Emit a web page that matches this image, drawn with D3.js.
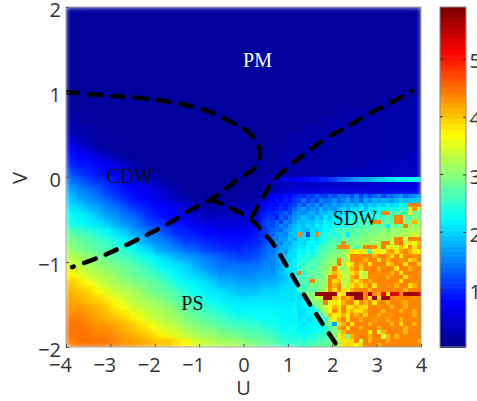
<!DOCTYPE html>
<html>
<head>
<meta charset="utf-8">
<script src="https://cdn.jsdelivr.net/npm/d3@7"></script>
<style>
  body { margin: 0; background: #fff; overflow: hidden; }
  text { font-family: "Open Sans", sans-serif; fill: #333; }
  .phase { font-family: "Liberation Serif", serif; font-size: 20px; fill: #111; }
</style>
</head>
<body>
<div id="chart"></div>
<script>
// tick labels
let uTicks = [-4, -3, -2, -1, 0, 1, 2, 3, 4];
let vTicks = [-2, -1, 0, 1, 2];
let barTicks = [1, 2, 3, 4, 5];

// smooth part of the map: top row is V = 2, cells are 0.2 wide in U and 0.1 high in V
let smoothRows = [
[.15,.15,.15,.15,.15,.15,.15,.15,.15,.15,.15,.15,.15,.15,.15,.15,.15,.15,.15,.15,.15,.15,.15,.15,.15,.15,.15,.15,.15,.15,.15,.15,.15,.15,.15,.15,.15,.15,.15,.15],
[.15,.15,.15,.15,.15,.15,.15,.15,.15,.15,.15,.15,.15,.15,.15,.15,.15,.15,.15,.15,.15,.15,.15,.15,.15,.15,.15,.15,.15,.15,.15,.15,.15,.15,.15,.15,.15,.15,.15,.15],
[.15,.15,.15,.15,.15,.15,.15,.15,.15,.15,.15,.15,.15,.15,.15,.15,.15,.15,.15,.15,.15,.15,.15,.15,.15,.15,.15,.15,.15,.15,.15,.15,.15,.15,.15,.15,.15,.15,.15,.15],
[.15,.15,.15,.15,.15,.15,.15,.15,.15,.15,.15,.15,.15,.15,.15,.15,.15,.15,.15,.15,.15,.15,.15,.15,.15,.15,.15,.15,.15,.15,.15,.15,.15,.15,.15,.15,.15,.15,.15,.15],
[.15,.15,.15,.15,.15,.15,.15,.15,.15,.15,.15,.15,.15,.15,.15,.15,.15,.15,.15,.15,.15,.15,.15,.15,.15,.15,.15,.15,.15,.15,.15,.15,.15,.15,.15,.15,.15,.15,.15,.15],
[.15,.15,.15,.15,.15,.15,.15,.15,.15,.15,.15,.15,.15,.15,.15,.15,.15,.15,.15,.15,.15,.15,.15,.15,.15,.15,.15,.15,.15,.15,.15,.15,.15,.15,.15,.15,.15,.15,.15,.15],
[.15,.15,.15,.15,.15,.15,.15,.15,.15,.15,.15,.15,.15,.15,.15,.15,.15,.15,.15,.15,.15,.15,.15,.15,.15,.15,.15,.15,.15,.15,.15,.15,.15,.15,.15,.15,.15,.15,.15,.15],
[.15,.15,.15,.15,.15,.15,.15,.15,.15,.15,.15,.15,.15,.15,.15,.15,.15,.15,.15,.15,.15,.15,.15,.15,.15,.15,.15,.15,.15,.15,.15,.15,.15,.15,.15,.15,.15,.15,.15,.15],
[.15,.15,.15,.15,.15,.15,.15,.15,.15,.15,.15,.15,.15,.15,.15,.15,.15,.15,.15,.15,.15,.15,.15,.15,.15,.15,.15,.15,.15,.15,.15,.15,.15,.15,.15,.15,.15,.15,.15,.15],
[.15,.15,.15,.15,.15,.15,.15,.15,.15,.15,.15,.15,.15,.15,.15,.15,.15,.15,.15,.15,.15,.15,.15,.15,.15,.15,.15,.15,.15,.15,.15,.15,.15,.15,.15,.15,.15,.15,.15,.15],
[.15,.15,.15,.15,.15,.15,.15,.15,.15,.15,.15,.15,.15,.15,.15,.15,.15,.15,.15,.15,.15,.15,.15,.15,.15,.15,.15,.15,.15,.15,.15,.15,.15,.15,.15,.15,.15,.15,.15,.2],
[.15,.15,.15,.15,.15,.15,.15,.15,.15,.15,.15,.15,.15,.15,.15,.15,.15,.15,.15,.15,.15,.15,.15,.15,.15,.15,.15,.15,.15,.15,.15,.15,.15,.15,.15,.2,.2,.2,.2,.2],
[.15,.15,.15,.15,.15,.15,.15,.15,.15,.15,.15,.15,.15,.15,.15,.15,.15,.15,.15,.15,.15,.15,.15,.15,.15,.15,.15,.15,.15,.15,.15,.2,.2,.2,.25,.25,.25,.25,.25,.25],
[.2,.15,.15,.15,.15,.15,.15,.15,.15,.15,.15,.15,.15,.15,.15,.15,.15,.15,.15,.15,.15,.15,.15,.15,.15,.15,.15,.15,.15,.2,.2,.2,.2,.25,.25,.25,.25,.25,.25,.25],
[.3,.25,.2,.15,.15,.15,.15,.15,.15,.15,.15,.15,.15,.15,.15,.15,.15,.15,.15,.15,.15,.15,.15,.15,.15,.15,.15,.2,.2,.2,.2,.2,.25,.25,.25,.25,.25,.25,.25,.25],
[.5,.3,.2,.15,.15,.15,.15,.15,.15,.15,.15,.15,.15,.15,.15,.15,.15,.15,.15,.15,.15,.15,.15,.15,.15,.2,.2,.2,.2,.2,.2,.2,.25,.25,.25,.25,.25,.25,.25,.25],
[.7,.6,.45,.25,.18,.15,.15,.15,.15,.15,.15,.15,.15,.15,.15,.15,.15,.15,.15,.15,.15,.15,.15,.15,.15,.2,.2,.2,.2,.2,.2,.2,.25,.25,.25,.25,.25,.25,.25,.25],
[.85,.8,.7,.6,.45,.25,.18,.15,.15,.15,.15,.15,.15,.15,.15,.15,.15,.15,.15,.15,.15,.15,.15,.15,.2,.2,.2,.2,.2,.2,.2,.25,.25,.25,.25,.25,.25,.25,.3,.3],
[1,.9,.85,.8,.7,.6,.45,.25,.18,.15,.15,.15,.15,.15,.15,.15,.15,.15,.15,.15,.15,.15,.15,.15,.2,.2,.2,.2,.2,.25,.25,.25,.25,.25,.3,.3,.3,.3,.3,.3],
[1.25,1.1,.95,.85,.8,.7,.6,.45,.25,.18,.15,.15,.15,.15,.15,.15,.15,.15,.15,.15,.15,.15,.15,.2,.2,.2,.25,.25,.25,.25,.25,.3,.3,.3,.3,.35,.35,.35,.35,.35],
[1.45,1.35,1.2,1.05,.95,.85,.78,.67,.55,.38,.2,.15,.15,.15,.15,.15,.15,.15,.15,.15,.15,.15,.2,.25,.3,.35,.35,.4,.4,.4,.45,.45,.45,.45,.5,.5,.5,.5,.5,.5],
[1.7,1.55,1.4,1.3,1.1,1,.9,.8,.72,.6,.5,.3,.2,.15,.15,.15,.15,.15,.15,.15,.15,.15,.2,.3,.4,.45,.5,.5,.55,.55,.55,.55,.55,.55,.55,.55,.6,.6,.6,.6],
[1.9,1.75,1.6,1.45,1.3,1.15,1,.9,.8,.7,.6,.5,.3,.2,.15,.15,.15,.15,.15,.15,.15,.25,.4,.6,.7,.8,.85,.9,.9,.95,1,1,1.05,1.05,1.1,1.1,1.15,1.15,1.2,1.2],
[2.1,2,1.85,1.7,1.55,1.4,1.25,1.1,1,.9,.8,.7,.6,.5,.3,.2,.15,.2,.25,.3,.35,.45,.8,1,1.1,1.2,1.2,1.3,1.3,1.4,1.4,1.5,1.5,1.6,1.6,1.7,1.7,1.8,1.8,1.9],
[2.3,2.2,2.05,1.9,1.75,1.6,1.45,1.3,1.15,1,.9,.8,.7,.6,.5,.4,.35,.35,.35,.4,.45,.55,1,1.2,1.3,1.4,1.4,1.4,1.5,1.5,1.6,1.6,1.7,1.7,1.8,1.8,1.9,1.9,2,2],
[2.4,2.3,2.2,2.1,1.95,1.8,1.65,1.5,1.35,1.2,1.05,.95,.85,.75,.65,.6,.55,.55,.55,.55,.6,.7,1.2,1.4,1.6,1.7,1.7,1.7,1.8,1.9,2,2.1,2.2,2.3,2.4,2.5,2.6,2.7,2.8,2.9],
[2.7,2.6,2.5,2.4,2.3,2.1,1.95,1.75,1.6,1.45,1.3,1.15,1,.95,.85,.8,.75,.7,.7,.7,.75,.85,1.1,1.5,1.7,1.9,1.9,1.9,2,2.2,2.3,2.5,2.6,2.7,2.8,2.9,3,3,3.1,3.1],
[2.9,2.8,2.7,2.6,2.5,2.35,2.15,2.05,1.85,1.65,1.5,1.4,1.25,1.1,1.05,1,.95,.9,.85,.85,.9,1,1.2,1.7,1.9,2.1,2.1,2.1,2.2,2.4,2.6,2.8,3,3.2,3.4,3.6,3.8,3.8,3.8,3.8],
[3.05,2.95,2.85,2.75,2.65,2.55,2.45,2.3,2.1,1.95,1.75,1.6,1.5,1.35,1.3,1.2,1.1,1.05,1,1,1.05,1.1,1.3,1.6,2,2.3,2.3,2.3,2.4,2.6,2.8,3,3.2,3.4,3.6,3.8,4,4,4,4],
[3.25,3.15,3.05,2.95,2.85,2.75,2.65,2.5,2.4,2.25,2.1,2,1.85,1.75,1.6,1.5,1.4,1.3,1.25,1.2,1.2,1.25,1.4,1.6,2.1,2.4,2.4,2.4,2.6,2.8,3,3.2,3.4,3.6,3.8,4,4.2,4.2,4.2,4.2],
[3.5,3.35,3.2,3.1,3,2.9,2.8,2.7,2.6,2.45,2.3,2.15,2.05,1.95,1.8,1.65,1.5,1.45,1.4,1.4,1.4,1.45,1.5,1.7,1.85,2.5,2.5,2.6,2.8,3,3.2,3.4,3.6,3.8,4,4.2,4.2,4.2,4.2,4.2],
[3.7,3.55,3.4,3.25,3.15,3.05,2.95,2.85,2.75,2.65,2.5,2.35,2.2,2.1,2,1.9,1.75,1.65,1.6,1.55,1.55,1.6,1.65,1.75,1.85,2.2,2.4,2.6,2.8,3,3.2,3.4,3.6,3.8,4,4.2,4.2,4.2,4.2,4.2],
[4,3.8,3.6,3.45,3.3,3.2,3.1,3,2.9,2.8,2.7,2.55,2.4,2.3,2.15,2.05,1.95,1.85,1.8,1.7,1.7,1.75,1.8,1.85,1.95,2,2.4,2.6,2.8,3,3.2,3.4,3.6,3.8,4,4.2,4.2,4.2,4.2,4.2],
[4.1,4.05,3.9,3.7,3.55,3.4,3.25,3.15,3.05,2.95,2.85,2.75,2.6,2.45,2.3,2.2,2.1,2.05,1.95,1.9,1.9,1.9,1.95,2,2.05,2.1,2.4,2.6,2.8,3,3.2,3.4,3.6,3.8,4,4.2,4.2,4.2,4.2,4.2],
[4.2,4.15,4.05,3.95,3.8,3.6,3.45,3.3,3.2,3.1,3,2.9,2.75,2.6,2.5,2.35,2.3,2.2,2.1,2.05,2.05,2.05,2.05,2.05,2.1,2.1,2.4,2.6,2.8,3,3.2,3.4,3.6,3.8,4,4.2,4.2,4.2,4.2,4.2],
[4.3,4.25,4.2,4.1,4,3.8,3.65,3.5,3.35,3.25,3.15,3.05,2.95,2.8,2.7,2.55,2.45,2.35,2.3,2.2,2.2,2.2,2.2,2.2,2.15,2.15,2.4,2.6,2.8,3,3.2,3.4,3.6,3.8,4,4.2,4.2,4.2,4.2,4.2],
[4.4,4.35,4.25,4.2,4.15,4.05,3.9,3.7,3.55,3.4,3.3,3.2,3.05,2.95,2.85,2.7,2.65,2.55,2.45,2.4,2.35,2.3,2.3,2.25,2.2,2.2,2.4,2.6,2.8,3,3.2,3.4,3.6,3.8,4,4.2,4.2,4.2,4.2,4.2],
[4.5,4.45,4.4,4.3,4.25,4.2,4.1,4,3.8,3.6,3.45,3.35,3.25,3.1,3,2.9,2.8,2.75,2.65,2.6,2.55,2.5,2.4,2.35,2.3,2.3,2.4,2.6,2.8,3,3.2,3.4,3.6,3.8,4,4.2,4.2,4.2,4.2,4.2],
[4.5,4.5,4.45,4.4,4.35,4.3,4.2,4.15,4.05,3.9,3.7,3.55,3.45,3.3,3.2,3.1,3.05,2.95,2.9,2.85,2.75,2.7,2.6,2.5,2.4,2.35,2.4,2.6,2.8,3,3.2,3.4,3.6,3.8,4,4.2,4.2,4.2,4.2,4.2],
[4.4,4.45,4.5,4.5,4.45,4.4,4.3,4.25,4.2,4.15,4.05,4,3.85,3.7,3.5,3.4,3.3,3.2,3.15,3.1,3,2.95,2.85,2.7,2.5,2.45,2.5,2.7,2.9,3.1,3.3,3.5,3.7,3.9,4,4.2,4.2,4.2,4.2,4.2]
];

// noisy SDW part at full resolution: U from 1.2 to 4 in steps of 0.1, V from -0.2 to -2 in steps of 0.05
let sdwRows = [
[1.1,1,1.2,1.1,1.3,1.2,1.1,1.3,1.2,1.4,1.3,1.4,1.2,1.5,1.1,1.4,1.2,1.3,1.5,1.2,1.4,1.3,1.5,1.6,1.3,1.5,1.6,1.7],
[1.2,1.4,1.1,1.3,1.2,1.5,1.3,1.4,1.6,1.3,1.5,1.7,1.4,1.6,1.3,1.7,1.5,1.8,1.6,1.8,1.7,1.6,1.8,2,1.8,1.9,1.9,2],
[1.4,1.2,1.5,1.4,1.6,1.3,1.6,1.5,1.7,1.6,1.8,1.7,1.9,1.7,2,1.8,2,1.9,2.1,1.9,2.2,2,2.1,2.3,2.2,4.4,4.4,4.4],
[1.5,1.7,1.4,1.6,1.5,1.8,1.6,1.7,1.6,1.9,2,1.8,2.1,2,2.2,1.9,2.2,2.1,2.3,2.2,2.3,2.4,2.3,2.5,2.4,3.4,4.3,3.2],
[1.6,1.5,1.7,1.8,1.6,1.9,1.8,2,1.9,2.1,2,2.2,2.1,2.3,2.1,2.3,2.2,2.4,2.3,4.4,4.4,2.5,2.6,2.7,2.5,3.8,2.8,2.9],
[1.7,1.9,1.8,1.7,2,1.8,2.1,1.9,2.2,2,2.3,2.2,2.4,2.3,2.5,2.3,2.6,2.4,2.6,2.5,2.7,2.6,4.4,4.4,2.8,2.7,3,2.9],
[1.9,1.8,2,1.9,2.1,2,2.2,2.1,2.3,2.2,2.4,2.3,2.5,2.4,2.6,2.5,2.7,4.4,4.4,2.7,2.8,2.7,4.4,4.5,2.9,3,4.1,3.1],
[2,1.9,2.1,2,2.2,2.1,2.3,2.2,2.4,2.3,2.5,2.4,2.6,2.5,2.6,2.7,2.6,2.8,2.7,2.8,2.2,2.9,2.8,3,4.4,3,3.2,3.1],
[2,1.9,1.8,2.1,2,2.2,2.3,2.3,2.5,2.6,2.5,2.7,2.6,2.8,2.7,2.9,2.8,2.9,2.8,3,2.9,3,3.1,3,3.2,3.3,3.1,3.4],
[4.4,2,1.2,2.1,4.4,2.2,2.4,2.5,2.4,2.6,2.7,2.2,2.8,2.7,2.9,2.8,3,2.9,3,3.1,3,3.2,3.1,3.3,3.2,3.3,3.4,3.3],
[2,2.1,2,2.2,2.1,2.3,2.4,2.5,2.6,2.5,2.8,2.7,2.9,2.8,3,2.9,3,3.1,3,3.2,3.1,3.3,4.4,4.4,3.4,4.4,4.4,4.4],
[2.1,2,2.2,2.3,2.2,2.4,2.5,2.6,2.7,2.8,4.4,2.8,2.9,3,3.1,3,3.2,3.1,3.3,4.4,4.4,3.3,4.4,4.5,3.4,3.8,3.6,4.1],
[2.2,2.1,2.3,2.2,2.4,2.5,2.6,2.7,2.8,4.4,4.4,4.3,3,2.6,3.1,4.4,4.4,4.3,3.2,4.4,3.4,3.8,3.5,4.1,3.7,4.4,3.8,4.3],
[2.3,2.2,2.4,2.3,2.5,2.6,2.7,2.8,2.9,3,3.1,3.2,3.8,3.7,3.8,3.4,2.6,3.6,3.8,3.5,4.1,4.3,3.8,4.2,4.4,4.1,3.8,3.7],
[2.4,2.3,2.5,2.4,2.6,2.7,2.8,2.9,3,3.1,3,3.5,4.4,4.4,4.3,4.4,4.4,4.1,4.4,4.4,4.3,3.8,4.4,3.8,4.4,4.4,4.3,4.4],
[2.4,2.5,2.4,2.6,2.7,2.8,2.9,3,3.1,4.4,3.1,3.3,4.3,4.4,4.4,4.1,4.4,4.4,3.8,4.4,4.1,4.4,4.4,4.3,4.4,3.8,4.1,4.4],
[2.5,2.4,2.6,2.7,2.6,2.8,2.9,3.1,3.2,4.5,3.2,3.6,3.8,4.4,4.1,4.4,3.8,4.4,4.4,4.4,3.8,4.1,4.4,4.4,3.8,4.4,4.4,3.9],
[2.5,2.6,2.7,2.6,2.8,2.9,3,3.2,4.4,3.3,3,3.4,4.1,4.4,3.8,4.4,4.4,4.4,4.1,4.4,4.4,4.4,3.8,4.4,4.4,4.1,4.4,4.4],
[4.4,2.4,2.7,2.8,2.7,2.9,3.1,3.3,4.1,3.8,3.3,3.2,3.8,4.1,3.4,3.3,4.4,4.4,4.3,4.4,4.4,4.1,4.4,3.8,4.4,4.4,4.4,4.3],
[2.6,2.5,2.8,2.7,2.9,2.8,3.2,4.4,4.4,3.8,3.4,3.3,4.1,4.4,3.5,3.4,4.4,4.3,4.4,4.4,4.1,4.4,4.4,4.4,3.8,4.4,4.4,4.4],
[2.6,2.7,2.6,4.4,2.9,3,3.1,4.4,3.8,4.1,3.3,3.2,4.1,3.8,4.1,4.4,4.1,4.4,4.4,4.4,4.4,4.4,4.4,3.8,4.4,4.4,4.4,4.4],
[2.6,2.5,2.7,2.9,2.8,3,3.2,4.4,4.1,4.4,3.3,3.4,3.8,4.1,3.8,4.1,4.4,3.8,4.4,4.4,4.3,4.4,4.1,4.4,4.4,3.8,4.1,4.4],
[2.7,2.6,2.8,2.7,2.9,3.1,3.3,4.4,3.8,4.4,3.8,3.5,4.1,4.4,4.4,4.4,4.1,4.4,4.4,4.4,4.4,4.4,4.4,4.4,4.1,4.4,4.4,4.4],
[2.1,2.7,2.9,3,5.8,5.8,5.8,5.8,5.8,3.6,3.8,5.8,5.8,5.8,5.8,4.4,5.7,4.4,4.1,5.1,3.8,5.4,5.2,4.4,5.7,5.8,5.7,5.4],
[2.1,2.1,2.9,3,3.3,3.5,5.7,5.7,4.1,3.8,4.4,4.1,4.4,5.8,5.7,4.4,3.8,5.7,3.9,5.7,5.7,4.4,4.3,4.4,4.4,4.4,4.3,4.4],
[2.1,2.2,2.2,3,2.9,3.1,4.4,3.4,3.8,3.6,4.1,4.4,4.4,3.8,4.4,4.1,4.4,3.8,4.4,4.4,4.1,4.4,4.4,4.3,4.1,4.4,4.4,4.4],
[2.1,2.2,2.2,2.3,3,3.2,3.3,3.7,4.1,3.8,4.4,3.8,3.8,4.1,3.9,3.8,4.4,4.4,4.3,4.4,4.4,4.1,4.4,4.4,4.1,4.4,4.4,4.4],
[2.1,2.1,2.2,2.3,2.4,3,3.3,3.6,4.4,3.8,4.4,3.9,4.1,3.8,3.8,4.1,4.4,4.4,4.4,4.1,4.4,4.4,4.4,4.1,4.4,4.4,4.1,4.4],
[2.1,2.1,2.2,2.2,2.3,2.5,3,4.1,3.7,3.8,4.1,3.8,4.4,4.1,4.4,3.9,4.4,4.4,4.1,4.4,4.4,4.3,4.4,4.4,4.4,4.4,4.1,4.4],
[2.1,2.2,2.1,2.2,2.3,2.4,2.5,3.2,3.7,4.1,4.4,3.8,4.4,4.4,4.1,4.4,4.4,4.3,4.4,4.4,4.1,4.4,4.4,4.1,4.4,4.4,4.4,4.4],
[2.2,2.1,2.2,2.2,2.3,2.3,2.5,2.8,1.7,3.8,4.1,4.4,3.8,4.4,4.4,4.4,4.1,4.4,4.4,4.4,4.4,4.1,4.4,3.9,4.4,4.4,4.1,4.4],
[2.2,2.2,2.2,2.3,2.3,2.4,2.4,2.7,2.9,4.1,4.4,3.8,4.4,4.4,4.1,4.4,4.4,4.4,4.1,4.4,4.4,4.4,4.4,4.4,4.1,4.4,4.4,4.4],
[2.3,2.2,2.3,2.3,2.4,2.4,2.5,2.6,2.9,3.4,4.1,4.4,4.4,4.4,4.4,4.4,3.8,4.4,3.4,4.1,4.4,4.4,4.4,4.4,4.1,4.4,4.4,4.4],
[2.4,2.3,2.4,2.4,2.5,2.5,2.6,2.7,3,3.6,3.9,2.9,4.1,4.4,4.4,4.4,4.1,4.4,4.4,3.4,4.1,4.4,4.1,4.4,4.4,4.4,4.4,4.4],
[2.5,2.4,2.5,2.5,2.6,2.6,2.7,2.8,3,3.3,3.8,3.8,3.9,4.4,3.4,4.4,4.1,4.4,4.4,4.4,4.1,4.4,4.4,4.4,4.4,4.4,4.4,4.1],
[2.6,2.5,2.6,2.6,2.7,2.7,2.8,2.9,3.1,3.3,3.8,3.9,3.8,3.6,3.9,4.4,4.4,4.4,4.1,4.4,4.4,4.4,4.4,4.4,4.4,4.4,4.4,4.4]
];

// scattered cells just left of those, U from 0.6 to 1.2, same rows from V = -0.2 down to V = -1.1
let sdwLeftRows = [
[.7,.8,.7,.9,.8,1],
[.8,.9,.8,1,.9,1.1],
[.9,.8,1,.9,1.1,1.2],
[.9,1,1.1,1,1.2,1.3],
[1,1.1,1.2,1.3,1.2,1.5],
[1.1,1,1.3,1.2,1.4,1.6],
[1.2,1.3,1.2,1.5,1.4,1.7],
[1.2,1.3,1.5,1.4,1.6,1.8],
[1.3,1.4,1.3,1.6,1.7,1.9],
[1.3,1.5,1.6,1.5,1.8,1.9],
[1.4,1.5,1.7,1.6,1.9,1.8],
[1.4,1.6,1.5,1.8,1.7,2],
[1.4,1.5,1.7,1.8,1.9,2],
[1.4,1.6,1.8,1.7,2,2.1],
[1.5,1.6,1.7,1.9,2.1,2.1],
[1.5,1.7,1.8,2,2,2.2],
[1.5,1.6,1.8,1.9,2.1,2.2],
[1.5,1.7,1.8,2,2.1,2.2],
[1.6,1.7,1.9,2,2.1,2.2]
];

// bright thin line just below V = 0, U from 0.7 to 4 in steps of 0.1
let stripeValues = [.5,.5,.6,.6,.7,.7,.8,.8,.9,.9,1,1,1.1,1.2,1.3,1.3,1.4,1.5,1.6,1.7,1.7,1.8,1.9,2,2,2.1,2.1,2.2,2.2,2.2,2.3,2.3,2.4];

// phase boundaries as [U, V]
let upperBoundary = [[-4,1],[-3.46,.976],[-2.94,.953],[-2.33,.93],[-1.72,.89],[-1.2,.835],[-.69,.753],[-.08,.59],[.06,.553],[.3,.41],[.37,.28],[.3,.14],[.15,.06],[-.08,-.01],[-.42,-.15],[-.75,-.27],[-1.2,-.39],[-1.66,-.54],[-2.18,-.68],[-2.72,-.82],[-3.23,-.94],[-3.86,-1.06]];
let sdwBoundary = [[-.75,-.26],[-.42,-.33],[-.08,-.42],[.19,-.51],[.44,-.65],[.66,-.78],[1,-1.07],[1.32,-1.35],[1.72,-1.68],[2.13,-2]];
let pmBoundary = [[.19,-.47],[.44,-.24],[.66,-.06],[1.05,.14],[1.43,.29],[1.88,.46],[2.33,.59],[2.78,.73],[3.23,.85],[3.8,1.01]];

// phase names
let phaseNames = ["PM", "CDW", "SDW", "PS"];
let phaseU = [.315, -2.56, 2.51, -1.15];
let phaseV = [1.295, -.07, -.565, -1.565];

let colorMin = 0.01;
let colorMax = 5.9;

let svgWidth = 477;
let svgHeight = 401;
let margin = { top: 7, left: 66 };
let width = 355;
let height = 340;

let svg = d3.select("#chart")
            .append("svg")
            .attr("width", svgWidth)
            .attr("height", svgHeight);

let xScale = d3.scaleLinear().domain([-4, 4]).range([margin.left, margin.left + width]);
let yScale = d3.scaleLinear().domain([-2, 2]).range([margin.top + height, margin.top]);

// jet colormap, cut into 64 steps like the colorbar
let jet = d3.scaleLinear()
            .domain([0, .125, .375, .625, .875, 1])
            .range(["#00008f", "#0000ff", "#00ffff", "#ffff00", "#ff0000", "#800000"]);
let colorOf = v => {
    let t = (v - colorMin) / (colorMax - colorMin);
    return jet(Math.max(0, Math.min(63, Math.floor(t * 64))) / 63);
};

let defs = svg.append("defs");
defs.append("clipPath").attr("id", "plotClip")
    .append("rect")
    .attr("x", margin.left).attr("y", margin.top)
    .attr("width", width).attr("height", height);
defs.append("filter").attr("id", "soften")
    .attr("x", "-5%").attr("y", "-5%").attr("width", "110%").attr("height", "110%")
    .attr("color-interpolation-filters", "sRGB")
    .append("feGaussianBlur")
    .attr("stdDeviation", 2.4)
    .attr("edgeMode", "duplicate");

let plot = svg.append("g").attr("clip-path", "url(#plotClip)");

// smooth background cells
let smoothCells = [];
smoothRows.forEach((row, r) => row.forEach((value, c) => {
    smoothCells.push({ u: -4 + c * 0.2, v: 2 - r * 0.1, value: value });
}));
plot.append("g").attr("filter", "url(#soften)")
    .selectAll("rect")
    .data(smoothCells)
    .enter()
    .append("rect")
    .attr("x", d => xScale(d.u))
    .attr("y", d => yScale(d.v))
    .attr("width", xScale(0.2) - xScale(0) + 0.5)
    .attr("height", yScale(0) - yScale(0.1) + 0.5)
    .attr("fill", d => colorOf(d.value));

// noisy cells on top
let fineCells = [];
sdwLeftRows.forEach((row, r) => row.forEach((value, c) => {
    fineCells.push({ u: 0.6 + c * 0.1, v: -0.2 - r * 0.05, value: value });
}));
sdwRows.forEach((row, r) => row.forEach((value, c) => {
    fineCells.push({ u: 1.2 + c * 0.1, v: -0.2 - r * 0.05, value: value });
}));
stripeValues.forEach((value, c) => {
    fineCells.push({ u: 0.7 + c * 0.1, v: 0, value: value });
});
plot.append("g").attr("shape-rendering", "crispEdges")
    .selectAll("rect")
    .data(fineCells)
    .enter()
    .append("rect")
    .attr("x", d => xScale(d.u))
    .attr("y", d => yScale(d.v))
    .attr("width", xScale(0.1) - xScale(0) + 0.3)
    .attr("height", yScale(0) - yScale(0.05) + 0.3)
    .attr("fill", d => colorOf(d.value));

// dashed phase boundaries
let boundaryLine = d3.line()
    .x(d => xScale(d[0]))
    .y(d => yScale(d[1]))
    .curve(d3.curveCatmullRom);

plot.selectAll("path.boundary")
    .data([upperBoundary, sdwBoundary, pmBoundary])
    .enter()
    .append("path")
    .attr("class", "boundary")
    .attr("d", boundaryLine)
    .attr("fill", "none")
    .attr("stroke", "#000")
    .attr("stroke-width", 4.5)
    .attr("stroke-linecap", "round")
    .attr("stroke-dasharray", "12 11");

// phase labels
svg.selectAll("text.phase")
    .data(phaseNames)
    .enter()
    .append("text")
    .attr("class", "phase")
    .attr("x", (d, i) => xScale(phaseU[i]))
    .attr("y", (d, i) => yScale(phaseV[i]))
    .attr("text-anchor", "middle")
    .style("fill", d => d === "PM" ? "#fff" : "#111")
    .text(d => d);

// frame and axes
svg.append("rect")
    .attr("x", margin.left).attr("y", margin.top)
    .attr("width", width).attr("height", height)
    .attr("fill", "none")
    .attr("stroke", "#999")
    .attr("stroke-width", 0.8);

let xAxis = svg.append("g")
    .attr("transform", `translate(0, ${margin.top + height})`)
    .call(d3.axisBottom(xScale).tickValues(uTicks).tickFormat(d3.format("d")).tickSize(-3).tickPadding(11));
xAxis.selectAll("text").attr("dx", d => d < 0 ? -6 : 0);

let yAxis = svg.append("g")
    .attr("transform", `translate(${margin.left}, 0)`)
    .call(d3.axisLeft(yScale).tickValues(vTicks).tickFormat(d3.format("d")).tickSize(-3).tickPadding(5));
yAxis.selectAll("text").attr("dy", "0.45em");

[xAxis, yAxis].forEach(axis => {
    axis.select(".domain").remove();
    axis.selectAll("line").attr("stroke", "#555");
    axis.selectAll("text").style("font-size", "20px").style("font-family", '"Open Sans", sans-serif').style("fill", "#333");
});

svg.append("text")
    .attr("x", xScale(0))
    .attr("y", 395)
    .attr("text-anchor", "middle")
    .style("font-size", "20px")
    .text("U");

svg.append("text")
    .attr("transform", `translate(27, ${yScale(0) + 1}) rotate(-90)`)
    .attr("text-anchor", "middle")
    .style("font-size", "20px")
    .text("V");

// colorbar
let barX = 440;
let barWidth = 26;
let barScale = d3.scaleLinear().domain([colorMin, colorMax]).range([margin.top + height, margin.top]);
let barSteps = d3.range(64);
let stepValue = i => colorMin + (i + 0.5) * (colorMax - colorMin) / 64;

svg.append("g").attr("shape-rendering", "crispEdges")
    .selectAll("rect")
    .data(barSteps)
    .enter()
    .append("rect")
    .attr("x", barX)
    .attr("y", d => barScale(colorMin + (d + 1) * (colorMax - colorMin) / 64))
    .attr("width", barWidth)
    .attr("height", height / 64 + 0.5)
    .attr("fill", d => colorOf(stepValue(d)));

svg.append("rect")
    .attr("x", barX).attr("y", margin.top)
    .attr("width", barWidth).attr("height", height)
    .attr("fill", "none")
    .attr("stroke", "#888")
    .attr("stroke-width", 1);

let barAxis = svg.append("g")
    .attr("transform", `translate(${barX + barWidth}, 0)`)
    .call(d3.axisRight(barScale).tickValues(barTicks).tickFormat(d3.format("d")).tickSize(-3).tickPadding(3.5));
barAxis.select(".domain").remove();
barAxis.selectAll("line").attr("stroke", "#333");
barAxis.selectAll("text").attr("dy", "0.45em").style("font-size", "20px").style("font-family", '"Open Sans", sans-serif').style("fill", "#333");
// left side ticks of the colorbar
svg.append("g").selectAll("line")
    .data(barTicks)
    .enter()
    .append("line")
    .attr("x1", barX).attr("x2", barX + 3)
    .attr("y1", d => barScale(d)).attr("y2", d => barScale(d))
    .attr("stroke", "#333");
</script>
</body>
</html>
